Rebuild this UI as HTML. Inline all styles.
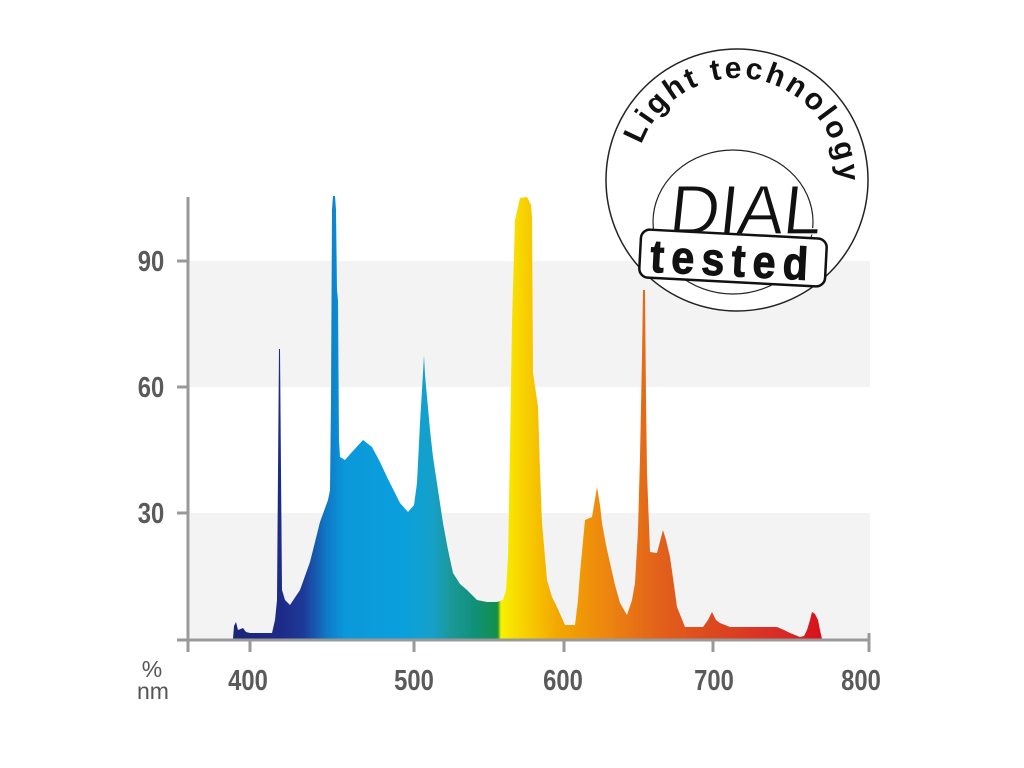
<!DOCTYPE html>
<html><head><meta charset="utf-8"><style>
html,body{margin:0;padding:0;background:#fff;}
svg{display:block;}
</style></head><body>
<svg width="1024" height="768" viewBox="0 0 1024 768" xmlns="http://www.w3.org/2000/svg">
<defs>
<linearGradient id="spec" gradientUnits="userSpaceOnUse" x1="233" y1="0" x2="822" y2="0">
<stop offset="0" stop-color="#1c2678"/>
<stop offset="0.08" stop-color="#1d2a88"/>
<stop offset="0.12" stop-color="#1d3a98"/>
<stop offset="0.16" stop-color="#0f7ac8"/>
<stop offset="0.19" stop-color="#0a98da"/>
<stop offset="0.29" stop-color="#0aa0dc"/>
<stop offset="0.34" stop-color="#16a0c8"/>
<stop offset="0.37" stop-color="#1a9898"/>
<stop offset="0.41" stop-color="#11907a"/>
<stop offset="0.448" stop-color="#12904a"/>
<stop offset="0.450" stop-color="#2a9a30"/>
<stop offset="0.455" stop-color="#f8f000"/>
<stop offset="0.49" stop-color="#f8d400"/>
<stop offset="0.55" stop-color="#f3a800"/>
<stop offset="0.64" stop-color="#ec8410"/>
<stop offset="0.72" stop-color="#e2621a"/>
<stop offset="0.83" stop-color="#dc4420"/>
<stop offset="0.93" stop-color="#d82a26"/>
<stop offset="1" stop-color="#d8101c"/>
</linearGradient>
<path id="arc" d="M 635,180 A 102,102 0 1,1 839,180 A 102,102 0 1,1 635,180"/>
</defs>

<rect x="190" y="261" width="680" height="126" fill="#f3f3f3"/>
<rect x="190" y="513" width="680" height="127" fill="#f3f3f3"/>

<path fill="url(#spec)" d="M233,639 L234,626 L236,622 L238,630 L243,628 L246,632 L250,633 L272,633 L275,620 L277,600 L278,470 L279,349 L280,349 L281,470 L282,590 L285,600 L290,605 L300,590 L310,562 L320,522 L328,500 L330,490 L331,400 L332,210 L333,196 L335,196 L336,210 L337,290 L338,300 L339,440 L340,457 L345,460 L352,452 L363,440 L372,447 L380,462 L387,477 L395,493 L400,503 L408,512 L414,505 L417,483 L420,423 L422,390 L424,355 L425,375 L427,397 L430,430 L433,457 L438,490 L443,523 L448,550 L453,573 L460,584 L467,590 L477,600 L487,602 L497,602 L503,600 L506,590 L508,557 L510,450 L512,323 L515,220 L520,198 L527,197 L531,205 L532,217 L533,373 L538,407 L540,470 L542,523 L547,580 L552,597 L557,607 L565,625 L575,625 L578,600 L580,573 L585,520 L592,517 L597,487 L600,505 L602,523 L606,545 L610,563 L615,585 L620,603 L627,615 L632,600 L635,583 L638,530 L640,457 L642,357 L643,290 L645,290 L646,400 L647,473 L650,552 L657,553 L663,530 L666,540 L670,557 L674,585 L677,607 L685,627 L703,627 L708,620 L712,612 L716,620 L720,623 L730,627 L777,627 L784,630 L790,633 L800,637 L804,636 L807,630 L810,620 L812,612 L815,614 L818,620 L820,630 L822,639 Z"/>

<line x1="188" y1="197" x2="188" y2="652" stroke="#999" stroke-width="3"/>
<line x1="177" y1="640" x2="870" y2="640" stroke="#999" stroke-width="3"/>
<g stroke="#999" stroke-width="3">
<line x1="177" y1="261" x2="188" y2="261"/>
<line x1="177" y1="387" x2="188" y2="387"/>
<line x1="177" y1="513" x2="188" y2="513"/>
<line x1="250" y1="640" x2="250" y2="652"/>
<line x1="414" y1="640" x2="414" y2="652"/>
<line x1="564" y1="640" x2="564" y2="652"/>
<line x1="713" y1="640" x2="713" y2="652"/>
<line x1="869" y1="633" x2="869" y2="652"/>
</g>
<g font-family="Liberation Sans, sans-serif" font-weight="bold" font-size="29" fill="#5a5a5a" text-anchor="middle">
<text transform="translate(151,271) scale(0.82,1)">90</text>
<text transform="translate(151,397) scale(0.82,1)">60</text>
<text transform="translate(151,523) scale(0.82,1)">30</text>
<text transform="translate(248,690) scale(0.82,1)">400</text>
<text transform="translate(414,690) scale(0.82,1)">500</text>
<text transform="translate(563,690) scale(0.82,1)">600</text>
<text transform="translate(714,690) scale(0.82,1)">700</text>
<text transform="translate(861,690) scale(0.82,1)">800</text>
</g>
<g font-family="Liberation Sans, sans-serif" font-size="23" fill="#555" text-anchor="middle">
<text x="152" y="677">%</text>
<text x="153" y="699">nm</text>
</g>

<circle cx="737" cy="180" r="131" fill="#fff" stroke="#222" stroke-width="1.5"/>
<ellipse cx="733" cy="222" rx="80" ry="72" fill="none" stroke="#222" stroke-width="1.2"/>
<text font-family="Liberation Sans, sans-serif" font-size="30" font-weight="bold" fill="#111">
<textPath href="#arc" startOffset="36" textLength="285" lengthAdjust="spacing">Light technology</textPath>
</text>
<text x="668" y="234" font-family="Liberation Sans, sans-serif" font-size="70" fill="#111" transform="skewX(-6) translate(24,0)" letter-spacing="-1" stroke="#fff" stroke-width="1.2">DIAL</text>
<g transform="rotate(3 732 258)">
<rect x="640" y="234" width="186" height="48" rx="9" fill="#fff" stroke="#111" stroke-width="2.5"/>
<text x="733" y="276" text-anchor="middle" font-family="Liberation Sans, sans-serif" font-weight="bold" font-size="46" fill="#111" stroke="#111" stroke-width="1" letter-spacing="8" transform="translate(733,0) scale(0.9,1) translate(-733,0)">tested</text>
</g>
</svg>
</body></html>
